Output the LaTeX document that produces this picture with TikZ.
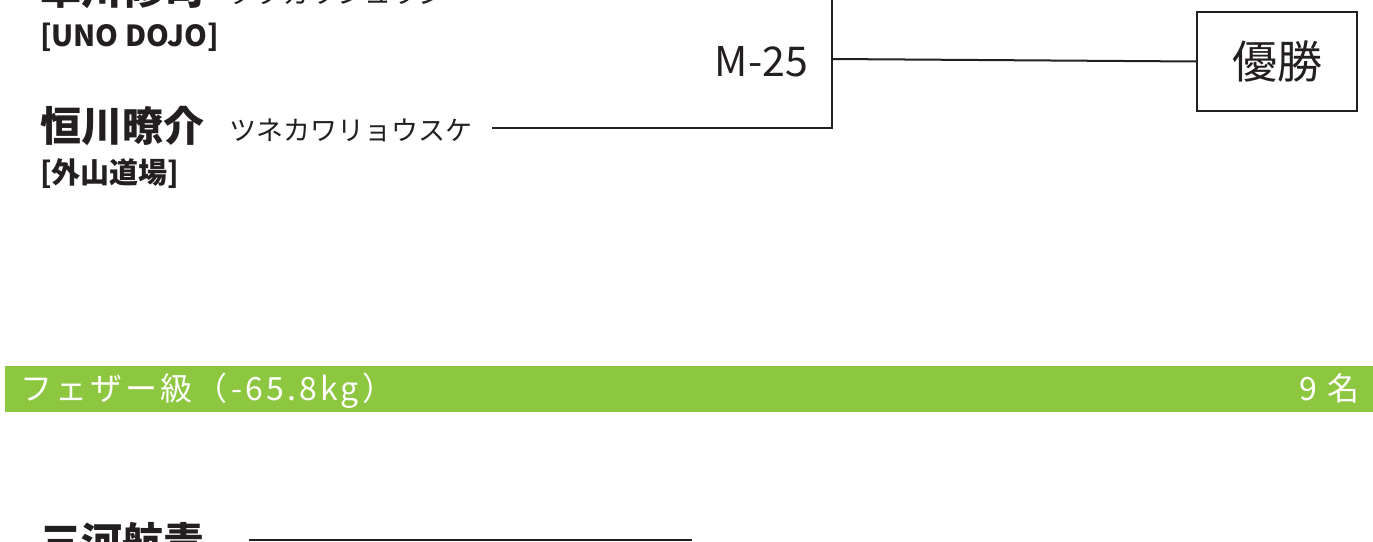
\documentclass[tikz,border=0pt]{standalone}
\usepackage{fontspec}
\setmainfont{Noto Sans CJK JP}
\newfontfamily\cjk{Noto Sans CJK JP}
\newfontfamily\cjkwide{Noto Sans CJK JP}[LetterSpace=10]
\definecolor{ink}{HTML}{231F20}
\definecolor{bargreen}{HTML}{8DC63F}
\begin{document}
\begin{tikzpicture}[x=1pt,y=-1pt,
  every node/.style={inner sep=0pt,outer sep=0pt,text=ink},
  conn/.style={draw=ink,line width=2pt},
  namestyle/.style={font=\cjk\bfseries\fontsize{41}{41}\selectfont,anchor=base west},
  kanastyle/.style={font=\cjk\fontsize{27}{27}\selectfont,anchor=base west},
  dojostyle/.style={font=\cjk\bfseries\fontsize{29}{29}\selectfont,anchor=base west},
  matchstyle/.style={font=\cjk\fontsize{41}{41}\selectfont,anchor=base east},
  winbox/.style={draw=ink,line width=2pt,minimum width=160pt,minimum height=99pt,font=\cjk\fontsize{45}{45}\selectfont},
  barstyle/.style={font=\cjkwide\fontsize{32}{32}\selectfont,text=white}]
\useasboundingbox (0,0) rectangle (1373,541);
\begin{scope}
\clip (0,0) rectangle (1373,541);
% green category bar
\fill[bargreen] (5,366) rectangle (1373,412);
\node[barstyle,anchor=base west] (cat) at (20,400) {フェザー級（-65.8kg）};
\node[barstyle,anchor=base east] (cnt) at (1360,400) {9 名};
% top fighter (cut off)
\node[namestyle] (n1) at (40,4) {卓川修司};
\node[kanastyle] (k1) at (229,3) {タクガワシュウジ};
\node[dojostyle] (d1) at (40,46) {[UNO DOJO]};
\coordinate (e1) at (832,-9);
% second fighter
\node[namestyle] (n2) at (40,141) {恒川暸介};
\node[kanastyle] (k2) at (229,140) {ツネカワリョウスケ};
\node[dojostyle] (d2) at (40,183) {[外山道場]};
\coordinate (s2) at (492,128);
\coordinate (c2) at (832,128);
% match
\node[matchstyle] (m25) at (808,76) {M-25};
\coordinate (j) at (832,59);
\node[winbox] (win) at (1277,61.5) {優勝};
\draw[conn] (s2) -- (c2) -- (e1);
\draw[conn] (j) -- (win.west);
% bottom fighter (cut off)
\node[namestyle] (n3) at (40,557) {三河航青};
\coordinate (s3) at (249,540);
\coordinate (t3) at (692,540);
\draw[conn] (s3) -- (t3);
\end{scope}
\end{tikzpicture}
\end{document}
